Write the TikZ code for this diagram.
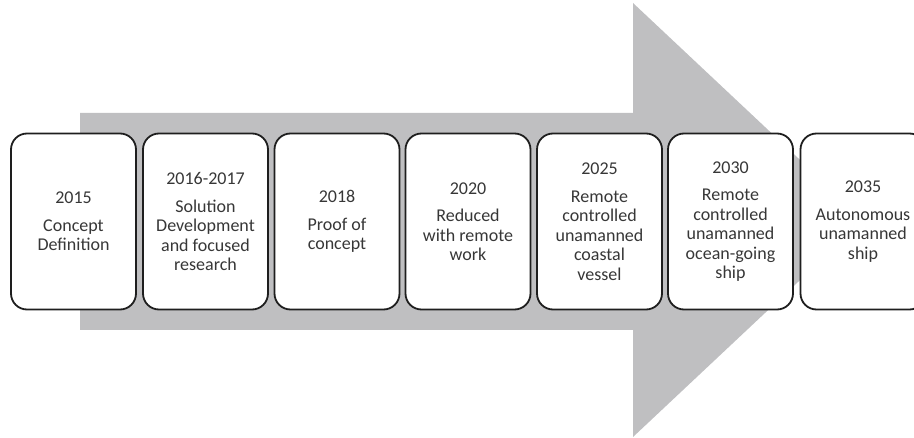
\documentclass[tikz,border=0pt]{standalone}
\usepackage{fontspec}
\setmainfont{Carlito}
\definecolor{arrowgray}{RGB}{191,191,193}
\definecolor{boxline}{RGB}{30,30,30}
\definecolor{textgray}{RGB}{55,55,55}
\begin{document}
\begin{tikzpicture}[x=1pt,y=-1pt,
  stagebox/.style={draw=boxline, line width=1.8pt, fill=white,
    rounded corners=16pt, minimum width=125pt, minimum height=176pt,
    align=center, inner sep=0pt, text=textgray,
    font=\fontsize{18}{19.5}\selectfont}]
  \useasboundingbox (0,0) rectangle (914,438);
  \clip (0,0) rectangle (914,438);
  % timeline arrow in the background
  \fill[arrowgray] (80,113) -- (633,113) -- (633,3) -- (864,220)
    -- (633,437) -- (633,330) -- (80,330) -- cycle;
  % stages
  \node[stagebox] (s1) at (73.5,221.5) {2015\\[8pt]Concept\\Definition};
  \node[stagebox] (s2) at (205.5,221.5) {2016-2017\\[8pt]Solution\\Development\\and focused\\research};
  \node[stagebox] (s3) at (337,221.5) {2018\\[8pt]Proof of\\concept};
  \node[stagebox] (s4) at (468,221.5) {2020\\[8pt]Reduced\\with remote\\work};
  \node[stagebox] (s5) at (599.5,221.5) {2025\\[8pt]Remote\\controlled\\unamanned\\coastal\\vessel};
  \node[stagebox] (s6) at (730.5,221.5) {2030\\[8pt]Remote\\controlled\\unamanned\\ocean-going\\ship};
  \node[stagebox] (s7) at (863,221.5) {2035\\[8pt]Autonomous\\unamanned\\ship};
\end{tikzpicture}
\end{document}
